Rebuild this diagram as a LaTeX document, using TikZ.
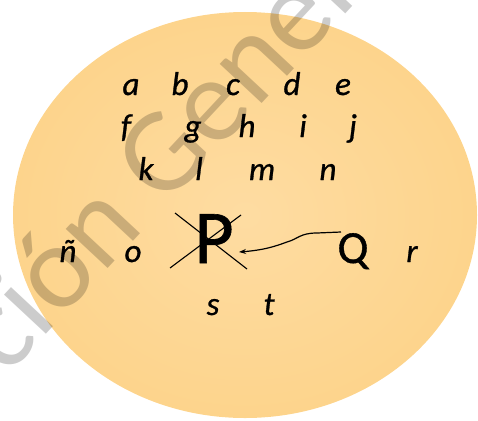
\documentclass[tikz,border=0pt]{standalone}
\usepackage{fontspec}
\setmainfont{Carlito}
\newfontface\lettface{Carlito Italic}[FakeBold=0.9]
\newfontface\capface{Carlito}[FakeBold=0.8]
\usetikzlibrary{arrows.meta}
\definecolor{ellin}{HTML}{FEDCA2}
\definecolor{ellout}{HTML}{FDD48C}
\begin{document}
\begin{tikzpicture}[x=1pt,y=-1pt,
  lett/.style={font=\fontsize{33}{33}\lettface, anchor=base, inner sep=0pt},
  bigletter/.style={anchor=base, inner sep=0pt},
  crossline/.style={line width=1.1pt},
  link/.style={line width=1.2pt, -{Stealth[length=7pt,width=5pt]}},
  wmark/.style={rotate=47, anchor=base west, inner sep=0pt, text=black, text opacity=0.2,
    font=\fontsize{120}{120}\selectfont}
]
\useasboundingbox (0,0) rectangle (478,420);
\shade[inner color=ellin, outer color=ellout] (245,215) ellipse [x radius=232, y radius=203];
\node[wmark] (wm) at (6,378) {ción General};
% row 1
\node[lett] (a) at (131,95) {a};
\node[lett] (b) at (180,95) {b};
\node[lett] (c) at (233,95) {c};
\node[lett] (d) at (292,95) {d};
\node[lett] (e) at (343,95) {e};
% row 2
\node[lett] (f) at (126,137) {f};
\node[lett] (g) at (193,137) {g};
\node[lett] (h) at (247,137) {h};
\node[lett] (i) at (303,137) {i};
\node[lett] (j) at (353,137) {j};
% row 3
\node[lett] (k) at (146,180) {k};
\node[lett] (l) at (199,180) {l};
\node[lett] (m) at (262,180) {m};
\node[lett] (n) at (328,180) {n};
% row 4
\node[lett] (nn) at (68,262) {ñ};
\node[lett] (o) at (133,262) {o};
\node[bigletter, font=\fontsize{76}{76}\capface] (P) at (214,263) {P};
\node[bigletter, font=\fontsize{46}{46}\capface] (Q) at (353,263) {Q};
\node[lett] (r) at (412,262) {r};
% row 5
\node[lett] (s) at (213,315) {s};
\node[lett] (t) at (269,315) {t};
% cross over P
\draw[crossline] (170,268) -- (241,215);
\draw[crossline] (175,213) -- (247,269);
% arrow Q -> P
\coordinate (qs) at (341,232);
\coordinate (pe) at (239,252);
\draw[link] (qs) -- (317,233) .. controls (300,233) and (298,239) .. (287,242)
  .. controls (276,246) and (265,250) .. (pe);
\end{tikzpicture}
\end{document}
